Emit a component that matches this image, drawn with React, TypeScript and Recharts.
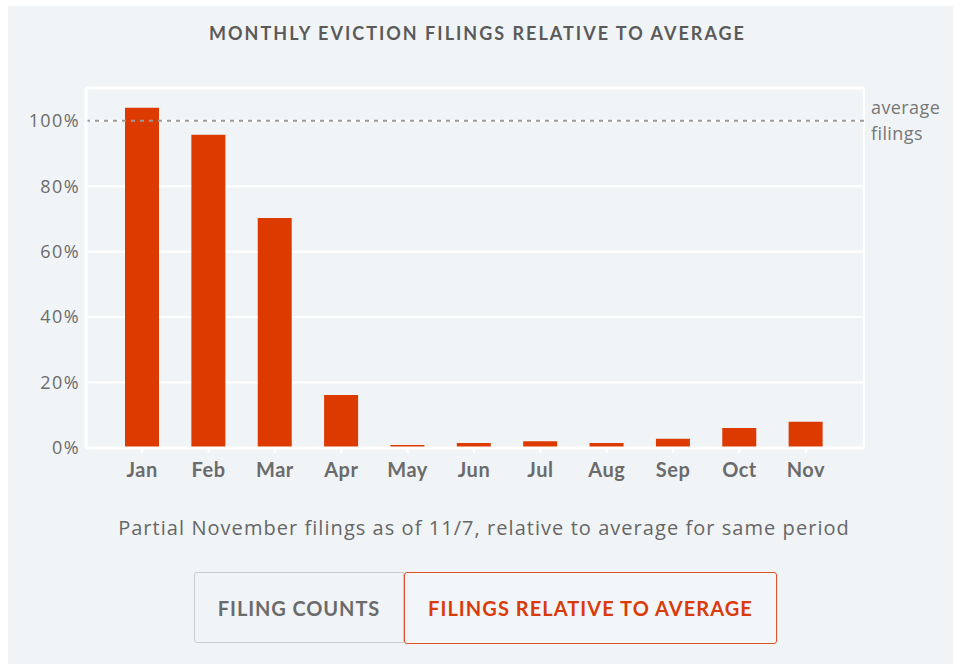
import { BarChart, Bar, XAxis, YAxis, CartesianGrid, ReferenceLine } from "recharts";

const months = ["Jan", "Feb", "Mar", "Apr", "May", "Jun", "Jul", "Aug", "Sep", "Oct", "Nov"];
const relativeToAverage = [104, 95.7, 70.3, 16.2, 0.3, 1.5, 2.1, 1.5, 2.8, 6.1, 8];
const yTicks = [0, 20, 40, 60, 80, 100];

const data = months.map((m, i) => ({ month: m, value: relativeToAverage[i] }));

const BAR = "#dd3a00";
const GRAY = "#6b6b6b";

export default function App() {
  return (
    <div style={{ position: "absolute", left: 0, top: 0, width: 955, height: 664, background: "#fff", overflow: "hidden" }}>
      <div style={{ position: "absolute", left: 8, top: 6, width: 945, height: 670, background: "#f1f4f7" }} />
      <div
        style={{
          position: "absolute", left: 0, top: 22, width: 955, textAlign: "center",
          fontFamily: "Lato, sans-serif", fontWeight: 700, fontSize: 18, letterSpacing: 2, color: "#5a5a5a",
        }}
      >
        MONTHLY EVICTION FILINGS RELATIVE TO AVERAGE
      </div>

      <div style={{ position: "absolute", left: 0, top: 0 }}>
        <BarChart width={955} height={500} data={data} margin={{ top: 88, right: 91, left: 10, bottom: 0 }} barSize={34}>
          <CartesianGrid stroke="#fff" strokeWidth={2} verticalPoints={[864]} />
          <ReferenceLine y={110} stroke="#fff" strokeWidth={3} />
          <XAxis
            dataKey="month"
            height={52}
            padding={{ left: 23, right: 25 }}
            axisLine={{ stroke: "#fff", strokeWidth: 3 }}
            tickLine={{ stroke: "#fff", strokeWidth: 2 }}
            tickSize={5}
            tick={{ fill: GRAY, fontSize: 20, fontWeight: 700, fontFamily: "Lato, sans-serif", letterSpacing: 0.5 }}
            tickMargin={10}
          />
          <YAxis
            width={76}
            domain={[0, 110]}
            ticks={yTicks}
            allowDataOverflow
            axisLine={{ stroke: "#fff", strokeWidth: 3 }}
            tickLine={false}
            tickMargin={0}
            tickFormatter={(v: number) => `${v}%`}
            tick={{ fill: GRAY, fontSize: 18, fontFamily: "Open Sans, sans-serif", letterSpacing: 1.4 }}
          />
          <ReferenceLine y={100} stroke="#999" strokeWidth={2} strokeDasharray="4 5" />
          <Bar dataKey="value" fill={BAR} minPointSize={3} isAnimationActive={false} />
        </BarChart>
      </div>

      <div style={{ position: "absolute", left: 871, top: 94, fontFamily: "Open Sans, sans-serif", fontSize: 18, lineHeight: "26px", letterSpacing: 0.4, color: "#777" }}>
        average<br />filings
      </div>

      <div
        style={{
          position: "absolute", left: 0, top: 514, width: 968, textAlign: "center",
          fontFamily: "Open Sans, sans-serif", fontSize: 20, letterSpacing: 1.05, color: "#666",
        }}
      >
        Partial November filings as of 11/7, relative to average for same period
      </div>

      <div
        style={{
          position: "absolute", left: 194, top: 572, width: 210, height: 71, boxSizing: "border-box",
          border: "1px solid #ccc", borderRadius: "3px 0 0 3px", display: "flex", alignItems: "center", justifyContent: "center",
          fontFamily: "Lato, sans-serif", fontWeight: 700, fontSize: 20, letterSpacing: 0.9, color: "#6b6b6b",
        }}
      >
        FILING COUNTS
      </div>
      <div
        style={{
          position: "absolute", left: 404, top: 572, width: 373, height: 72, boxSizing: "border-box",
          border: "1.5px solid #e0502a", borderRadius: 3, display: "flex", alignItems: "center", justifyContent: "center",
          fontFamily: "Lato, sans-serif", fontWeight: 700, fontSize: 20, letterSpacing: 1.05, color: "#d93b0b", background: "#f3f6f9",
        }}
      >
        FILINGS RELATIVE TO AVERAGE
      </div>
    </div>
  );
}
